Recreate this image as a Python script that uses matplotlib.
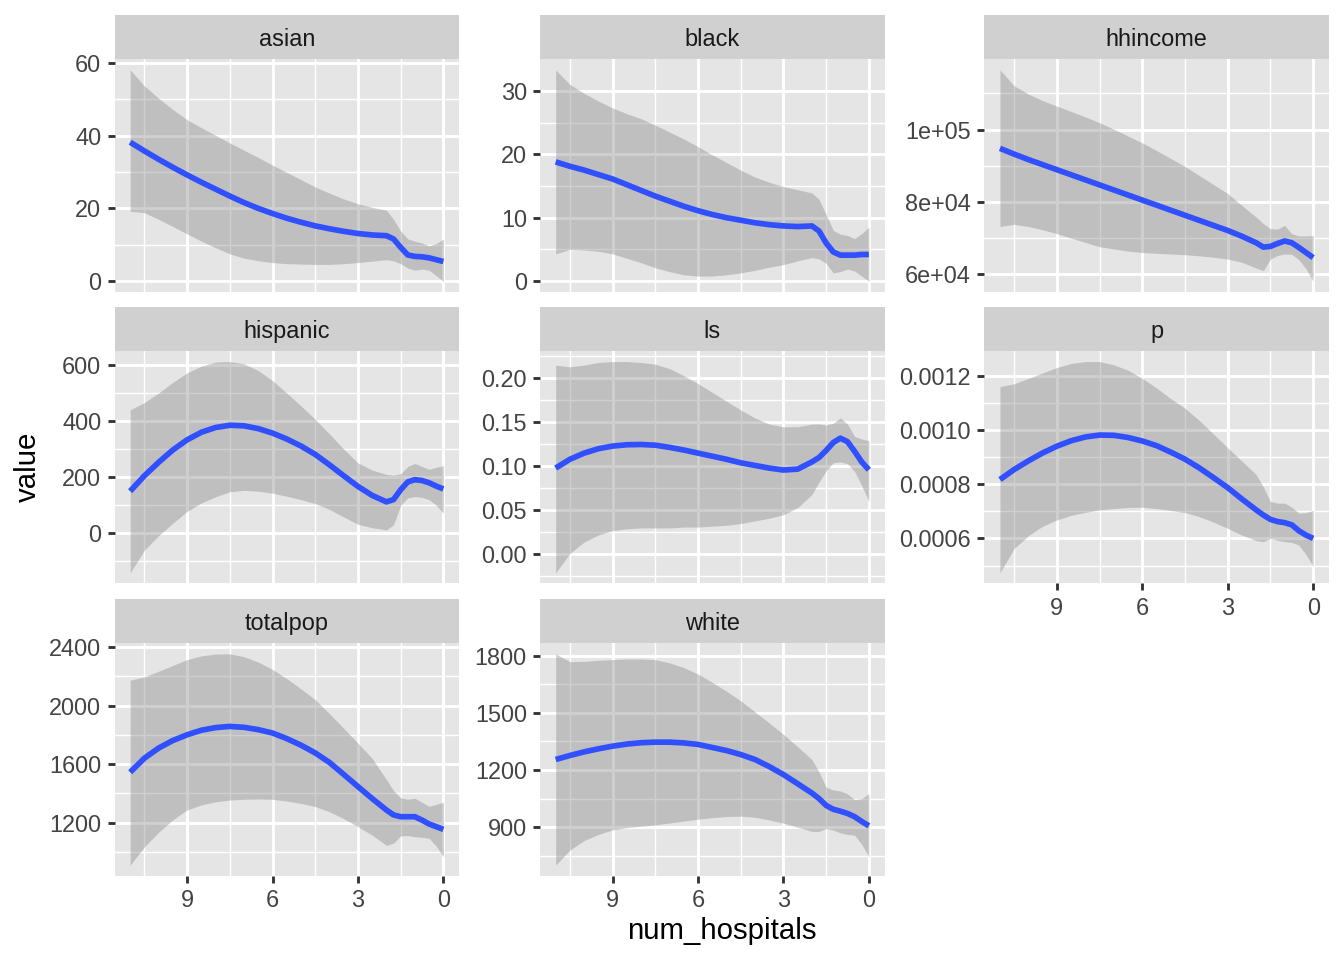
import numpy as np
import matplotlib
matplotlib.use("Agg")
import matplotlib.pyplot as plt
from matplotlib.ticker import MultipleLocator, FuncFormatter

plt.rcParams['font.family'] = ['Liberation Sans', 'DejaVu Sans']

# data (loess fit + 95% band per variable)
num_hospitals = [11, 10.5, 10, 9.5, 9, 8.5, 8, 7.5, 7, 6.5, 6, 5.5, 5, 4.5, 4, 3.5, 3,
                 2.5, 2, 1.75, 1.5, 1.25, 1, 0.75, 0.5, 0.25, 0]

asian_fit = [38.2, 35.8, 33.5, 31.3, 29.2, 27.2, 25.3, 23.4, 21.6, 20.0, 18.6, 17.3, 16.2, 15.2, 14.4, 13.7, 13.1,
             12.7, 12.5, 11.6, 9.3, 7.2, 6.8, 6.7, 6.4, 5.9, 5.4]
asian_hi = [58.1, 53.7, 50.3, 47.2, 44.4, 42.2, 40.1, 38.0, 36.0, 34.0, 31.9, 29.9, 27.9, 25.9, 24.2, 22.6, 21.3,
            20.3, 19.5, 17.0, 13.8, 11.6, 11.0, 10.5, 9.7, 10.3, 11.6]
asian_lo = [19.2, 18.8, 17.0, 15.0, 13.0, 11.0, 9.2, 7.5, 6.3, 5.6, 5.1, 4.8, 4.7, 4.6, 4.6, 4.8, 5.1,
            5.5, 5.9, 5.6, 4.8, 3.6, 3.0, 3.3, 3.0, 1.5, 0.0]

black_fit = [18.8, 18.1, 17.5, 16.8, 16.1, 15.2, 14.3, 13.4, 12.6, 11.8, 11.1, 10.5, 10.0, 9.6, 9.2, 8.9, 8.7,
             8.6, 8.7, 7.9, 6.0, 4.6, 4.1, 4.1, 4.1, 4.2, 4.2]
black_hi = [33.3, 31.0, 29.6, 28.4, 27.3, 26.4, 25.6, 24.6, 23.5, 22.4, 21.2, 19.9, 18.7, 17.5, 16.4, 15.6, 14.9,
            14.4, 13.9, 12.9, 10.5, 8.0, 7.4, 7.2, 6.7, 7.5, 8.5]
black_lo = [4.3, 5.0, 4.9, 4.7, 4.3, 3.6, 2.9, 2.1, 1.5, 1.0, 0.8, 0.8, 1.0, 1.3, 1.7, 2.2, 2.6,
            3.2, 3.7, 3.5, 2.8, 1.3, 1.5, 1.9, 1.6, 0.8, 0.0]

hhincome_fit = [94800, 93200, 91700, 90300, 88900, 87500, 86100, 84700, 83300, 81900, 80500, 79100, 77700, 76300,
                74900, 73500, 72100, 70500, 68700, 67500, 67700, 68500, 69200, 68700, 67400, 66000, 64600]
hhincome_hi = [116500, 112100, 109800, 108000, 106500, 105000, 103500, 101900, 100100, 98200, 96300, 94200, 92000,
               89800, 87300, 84800, 82300, 79000, 75800, 74000, 72600, 72500, 73500, 71200, 70600, 70600, 70700]
hhincome_lo = [73200, 73800, 73200, 72300, 71200, 70000, 68800, 67600, 67000, 66400, 66000, 65800, 65600, 65400,
               65100, 64700, 64200, 63300, 61700, 61000, 64200, 65200, 65600, 65500, 64000, 61500, 58100]

hispanic_fit = [150, 205, 253, 297, 333, 360, 377, 385, 383, 373, 357, 336, 311, 281, 244, 205, 167,
                135, 112, 120, 155, 183, 191, 188, 180, 168, 158]
hispanic_hi = [440, 466, 500, 538, 572, 596, 610, 612, 604, 580, 544, 500, 454, 406, 354, 300, 251,
               225, 210, 207, 212, 238, 249, 238, 228, 235, 241]
hispanic_lo = [-141, -60, -8, 36, 78, 108, 130, 148, 153, 150, 143, 132, 120, 106, 85, 58, 32,
               20, 12, 30, 100, 126, 131, 128, 120, 100, 72]

ls_fit = [0.098, 0.108, 0.115, 0.120, 0.123, 0.1245, 0.1248, 0.124, 0.1215, 0.1185, 0.115, 0.1115, 0.108, 0.104,
          0.101, 0.098, 0.0958, 0.0968, 0.105, 0.110, 0.118, 0.127, 0.132, 0.128, 0.117, 0.105, 0.096]
ls_hi = [0.215, 0.213, 0.215, 0.218, 0.219, 0.219, 0.218, 0.216, 0.211, 0.203, 0.194, 0.184, 0.174, 0.164,
         0.155, 0.148, 0.145, 0.145, 0.148, 0.148, 0.147, 0.149, 0.155, 0.148, 0.134, 0.131, 0.129]
ls_lo = [-0.021, 0.001, 0.014, 0.022, 0.027, 0.029, 0.030, 0.030, 0.030, 0.031, 0.031, 0.032, 0.033, 0.035,
         0.038, 0.041, 0.045, 0.053, 0.068, 0.082, 0.095, 0.104, 0.105, 0.103, 0.094, 0.078, 0.060]

p_fit = [8.17e-4, 8.54e-4, 8.86e-4, 9.15e-4, 9.40e-4, 9.60e-4, 9.74e-4, 9.81e-4, 9.80e-4, 9.72e-4, 9.59e-4,
         9.42e-4, 9.18e-4, 8.92e-4, 8.60e-4, 8.24e-4, 7.87e-4, 7.45e-4, 7.05e-4, 6.86e-4, 6.70e-4, 6.62e-4,
         6.58e-4, 6.50e-4, 6.28e-4, 6.12e-4, 6.00e-4]
p_hi = [11.6e-4, 11.7e-4, 11.9e-4, 12.1e-4, 12.3e-4, 12.45e-4, 12.52e-4, 12.52e-4, 12.4e-4, 12.2e-4, 11.9e-4,
        11.55e-4, 11.15e-4, 10.8e-4, 10.35e-4, 9.85e-4, 9.34e-4, 8.85e-4, 8.35e-4, 7.9e-4, 7.36e-4, 7.3e-4,
        7.3e-4, 7.15e-4, 6.93e-4, 6.95e-4, 7.03e-4]
p_lo = [4.73e-4, 5.63e-4, 6.1e-4, 6.45e-4, 6.68e-4, 6.85e-4, 6.96e-4, 7.05e-4, 7.1e-4, 7.14e-4, 7.15e-4,
        7.1e-4, 7.03e-4, 6.95e-4, 6.8e-4, 6.6e-4, 6.37e-4, 6.12e-4, 5.92e-4, 5.88e-4, 6.0e-4, 5.93e-4,
        5.88e-4, 5.85e-4, 5.75e-4, 5.4e-4, 4.97e-4]

totalpop_fit = [1545, 1641, 1710, 1762, 1801, 1832, 1850, 1858, 1852, 1836, 1813, 1775, 1730, 1677, 1612, 1530,
                1447, 1365, 1287, 1253, 1241, 1241, 1241, 1218, 1191, 1173, 1154]
totalpop_hi = [2174, 2197, 2235, 2275, 2315, 2340, 2353, 2354, 2335, 2298, 2247, 2185, 2115, 2041, 1945, 1845,
               1744, 1640, 1495, 1420, 1370, 1360, 1367, 1340, 1312, 1325, 1340]
totalpop_lo = [910, 1035, 1135, 1220, 1287, 1322, 1343, 1355, 1360, 1362, 1360, 1348, 1332, 1310, 1275, 1228,
               1173, 1115, 1045, 1060, 1110, 1112, 1104, 1100, 1093, 1040, 967]

white_fit = [1255, 1276, 1295, 1311, 1325, 1336, 1343, 1346, 1346, 1342, 1334, 1318, 1302, 1281, 1255, 1218,
             1176, 1128, 1079, 1050, 1014, 994, 984, 972, 955, 930, 907]
white_hi = [1809, 1768, 1770, 1775, 1779, 1782, 1782, 1779, 1762, 1737, 1703, 1660, 1613, 1563, 1505, 1447,
            1387, 1322, 1255, 1190, 1110, 1095, 1090, 1075, 1045, 1050, 1076]
white_lo = [701, 780, 830, 862, 886, 898, 905, 912, 922, 932, 942, 950, 956, 958, 952, 938,
            921, 900, 878, 878, 893, 885, 870, 862, 858, 810, 745]

# facet name, fit, lo, hi, y step, label format
facets = [
    ("asian", asian_fit, asian_lo, asian_hi, 20, "{:.0f}"),
    ("black", black_fit, black_lo, black_hi, 10, "{:.0f}"),
    ("hhincome", hhincome_fit, hhincome_lo, hhincome_hi, 20000, "{:.0e}"),
    ("hispanic", hispanic_fit, hispanic_lo, hispanic_hi, 200, "{:.0f}"),
    ("ls", ls_fit, ls_lo, ls_hi, 0.05, "{:.2f}"),
    ("p", p_fit, p_lo, p_hi, 0.0002, "{:.4f}"),
    ("totalpop", totalpop_fit, totalpop_lo, totalpop_hi, 400, "{:.0f}"),
    ("white", white_fit, white_lo, white_hi, 300, "{:.0f}"),
]

W, H = 1344, 960
col_left = [114.5, 540, 984.3]
row_top = [59.3, 351, 643.3]
pw, ph, sh = 344.5, 232.4, 44.3

fig = plt.figure(figsize=(7, 5), dpi=192)

for i, (name, fit, lo, hi, step, fmt) in enumerate(facets):
    r, c = divmod(i, 3)
    l, t = col_left[c], row_top[r]
    ax = fig.add_axes([l / W, 1 - (t + ph) / H, pw / W, ph / H])
    ax.set_facecolor('#E5E5E5')
    for s in ax.spines.values():
        s.set_visible(False)
    ax.set_axisbelow(True)

    ax.fill_between(num_hospitals, lo, hi, color='#888888', alpha=0.4, linewidth=0)
    ax.plot(num_hospitals, fit, color='#3050FF', linewidth=2.13,
            solid_capstyle='butt', solid_joinstyle='round')

    ax.set_xlim(11.55, -0.55)
    ax.set_xticks([9, 6, 3, 0])
    ax.set_xticks([10.5, 7.5, 4.5, 1.5], minor=True)
    ax.margins(y=0.05)
    ax.yaxis.set_major_locator(MultipleLocator(step))
    ax.yaxis.set_minor_locator(MultipleLocator(step / 2))
    ax.yaxis.set_major_formatter(FuncFormatter(lambda v, pos, f=fmt: f.format(v)))

    ax.grid(which='major', color='white', linewidth=1.07)
    ax.grid(which='minor', color='white', linewidth=0.53)
    ax.tick_params(which='major', length=2.75, width=1.07, color='#333333',
                   labelsize=8.8, labelcolor='#444444', pad=2.2)
    ax.tick_params(which='minor', length=0)

    bottom = (r == 2) or (r == 1 and c == 2)
    if not bottom:
        ax.tick_params(axis='x', which='major', length=0, labelbottom=False)

    strip = fig.add_axes([l / W, 1 - t / H, pw / W, sh / H])
    strip.set_facecolor('#D0D0D0')
    strip.set_xticks([])
    strip.set_yticks([])
    for s in strip.spines.values():
        s.set_visible(False)
    strip.text(0.5, 0.45, name, ha='center', va='center', fontsize=8.8, color='#1A1A1A')

fig.text(28 / W, 1 - 467 / H, "value", rotation=90, ha='center', va='center', fontsize=11, color='black')
fig.text(721.6 / W, 1 - 931 / H, "num_hospitals", ha='center', va='center', fontsize=11, color='black')

fig.savefig('out.png', dpi=192, facecolor='white')
